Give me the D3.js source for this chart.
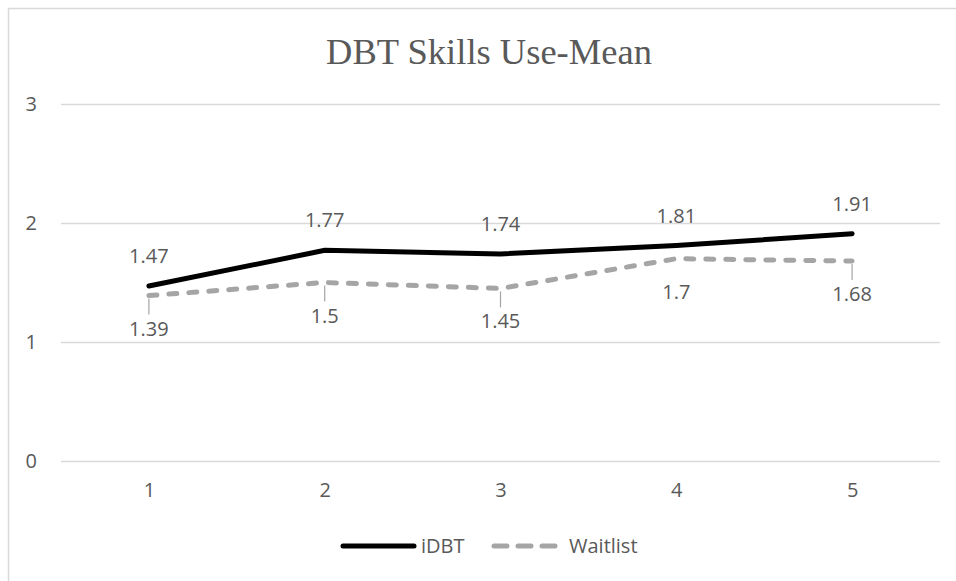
<!DOCTYPE html>
<html>
<head>
<meta charset="utf-8">
<script src="https://cdn.jsdelivr.net/npm/d3@7"></script>
<style>
  body { margin: 0; background: #fff; }
  svg { display: block; }
</style>
</head>
<body>
<svg id="chart" width="956" height="581"></svg>
<script>
// data
const sessions = ["1", "2", "3", "4", "5"];
const idbt = [1.47, 1.77, 1.74, 1.81, 1.91];
const waitlist = [1.39, 1.5, 1.45, 1.7, 1.68];
const yTicks = [0, 1, 2, 3];

const width = 956, height = 581;
const margin = { top: 104, right: 16, bottom: 120, left: 61 };
const labelFont = "'Open Sans', sans-serif";
const textColor = "#595959";

const svg = d3.select("#chart");

// chart frame (only top/left edges visible)
svg.append("path")
  .attr("d", `M8.5,${height} V8.5 H${width}`)
  .attr("fill", "none")
  .attr("stroke", "#d9d9d9")
  .attr("stroke-width", 1.5);

const x = d3.scalePoint()
  .domain(sessions)
  .range([margin.left, width - margin.right])
  .padding(0.5);

const y = d3.scaleLinear()
  .domain([0, 3])
  .range([height - margin.bottom, margin.top]);

// gridlines + y labels
const yAxis = d3.axisLeft(y)
  .tickValues(yTicks)
  .tickSize(-(width - margin.right - margin.left))
  .tickPadding(24)
  .tickFormat(d3.format("d"));
const gy = svg.append("g")
  .attr("transform", `translate(${margin.left},0)`)
  .call(yAxis);
gy.select(".domain").remove();
gy.selectAll(".tick line").attr("stroke", "#d9d9d9").attr("stroke-width", 1.5);
gy.selectAll(".tick text")
  .attr("fill", textColor)
  .style("font-family", labelFont)
  .style("font-size", "20px");

// x labels
const xAxis = d3.axisBottom(x).tickSize(0).tickPadding(22);
const gx = svg.append("g")
  .attr("transform", `translate(0,${y(0)})`)
  .call(xAxis);
gx.select(".domain").remove();
gx.selectAll(".tick text")
  .attr("fill", textColor)
  .style("font-family", labelFont)
  .style("font-size", "20px");

// title
svg.append("text")
  .attr("x", 489)
  .attr("y", 64)
  .attr("text-anchor", "middle")
  .attr("fill", textColor)
  .style("font-family", "'Liberation Serif', 'Times New Roman', serif")
  .style("font-size", "36.5px")
  .text("DBT Skills Use-Mean");

const line = d3.line()
  .x((d, i) => x(sessions[i]))
  .y(d => y(d));

// Waitlist leader lines (all but point 4, whose label sits close)
const labelGap = 33;
svg.append("g")
  .selectAll("line")
  .data(waitlist.map((v, i) => ({ v, i })).filter(d => d.i !== 3))
  .join("line")
  .attr("x1", d => x(sessions[d.i]))
  .attr("x2", d => x(sessions[d.i]))
  .attr("y1", d => y(d.v) + 3)
  .attr("y2", d => y(d.v) + labelGap - 14)
  .attr("stroke", "#a5a5a5")
  .attr("stroke-width", 1.2);

svg.append("path")
  .datum(waitlist)
  .attr("d", line)
  .attr("fill", "none")
  .attr("stroke", "#a5a5a5")
  .attr("stroke-width", 5)
  .attr("stroke-dasharray", "8,12")
  .attr("stroke-linecap", "round");

svg.append("path")
  .datum(idbt)
  .attr("d", line)
  .attr("fill", "none")
  .attr("stroke", "#000")
  .attr("stroke-width", 5)
  .attr("stroke-linecap", "round");

// data labels
svg.append("g")
  .selectAll("text")
  .data(idbt)
  .join("text")
  .attr("x", (d, i) => x(sessions[i]))
  .attr("y", d => y(d) - 30)
  .attr("dy", "0.35em")
  .attr("text-anchor", "middle")
  .attr("fill", textColor)
  .style("font-family", labelFont)
  .style("font-size", "20px")
  .text(d => d);

svg.append("g")
  .selectAll("text")
  .data(waitlist)
  .join("text")
  .attr("x", (d, i) => x(sessions[i]))
  .attr("y", d => y(d) + labelGap)
  .attr("dy", "0.35em")
  .attr("text-anchor", "middle")
  .attr("fill", textColor)
  .style("font-family", labelFont)
  .style("font-size", "20px")
  .text(d => d);

// legend
const legendY = 546;
const legend = [
  { name: "iDBT", x0: 343, x1: 414, color: "#000", dash: null },
  { name: "Waitlist", x0: 494, x1: 556, color: "#a5a5a5", dash: "13,11" }
];
const lg = svg.append("g");
legend.forEach(l => {
  lg.append("line")
    .attr("x1", l.x0).attr("x2", l.x1)
    .attr("y1", legendY).attr("y2", legendY)
    .attr("stroke", l.color)
    .attr("stroke-width", 5)
    .attr("stroke-linecap", "round")
    .attr("stroke-dasharray", l.dash);
  lg.append("text")
    .attr("x", l.name === "iDBT" ? l.x1 + 7 : l.x1 + 13)
    .attr("y", legendY)
    .attr("dy", "0.35em")
    .attr("fill", textColor)
    .style("font-family", labelFont)
    .style("font-size", "20px")
    .text(l.name);
});
</script>
</body>
</html>
